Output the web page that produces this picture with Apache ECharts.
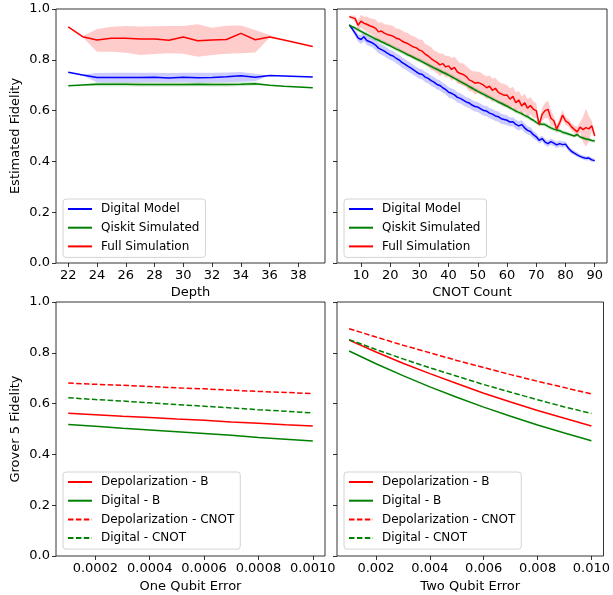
<!DOCTYPE html>
<html>
<head>
<meta charset="utf-8">
<script src="https://cdn.jsdelivr.net/npm/echarts@6.0.0/dist/echarts.min.js"></script>
<style>
  html, body { margin: 0; padding: 0; background: #fff; }
  #chart { width: 613px; height: 595px; }
</style>
</head>
<body>
<div id="chart"></div>
<script>
// ---- top left: fidelity vs depth ----
const depth = [22, 23, 24, 25, 26, 27, 28, 29, 30, 31, 32, 33, 34, 35, 36, 37, 38, 39];
const depthDigital = [0.751, 0.740, 0.730, 0.730, 0.730, 0.730, 0.731, 0.728, 0.731, 0.729, 0.730, 0.733, 0.737, 0.731, 0.738, 0.736, 0.734, 0.732];
const depthDigitalLo = [0.751, 0.738, 0.712, 0.711, 0.711, 0.711, 0.712, 0.711, 0.712, 0.711, 0.711, 0.712, 0.714, 0.716, 0.738, 0.736, 0.734, 0.732];
const depthDigitalHi = [0.751, 0.742, 0.748, 0.749, 0.749, 0.749, 0.749, 0.748, 0.749, 0.749, 0.749, 0.750, 0.752, 0.745, 0.738, 0.736, 0.734, 0.732];
const depthQiskit = [0.698, 0.701, 0.704, 0.704, 0.704, 0.703, 0.703, 0.703, 0.703, 0.704, 0.703, 0.703, 0.704, 0.706, 0.700, 0.696, 0.693, 0.690];
const depthQiskitLo = [0.698, 0.700, 0.696, 0.696, 0.696, 0.695, 0.695, 0.695, 0.695, 0.696, 0.695, 0.695, 0.696, 0.699, 0.700, 0.696, 0.693, 0.690];
const depthQiskitHi = [0.698, 0.702, 0.712, 0.712, 0.712, 0.711, 0.711, 0.711, 0.711, 0.712, 0.711, 0.711, 0.712, 0.713, 0.700, 0.696, 0.693, 0.690];
const depthFull = [0.930, 0.891, 0.878, 0.885, 0.885, 0.882, 0.882, 0.877, 0.890, 0.875, 0.878, 0.880, 0.904, 0.879, 0.890, 0.878, 0.865, 0.852];
const depthFullLo = [0.930, 0.889, 0.832, 0.832, 0.828, 0.819, 0.823, 0.826, 0.824, 0.812, 0.819, 0.824, 0.826, 0.829, 0.887, 0.878, 0.865, 0.852];
const depthFullHi = [0.930, 0.893, 0.921, 0.930, 0.933, 0.931, 0.932, 0.933, 0.933, 0.940, 0.926, 0.934, 0.935, 0.917, 0.898, 0.878, 0.865, 0.852];

// ---- top right: fidelity vs CNOT count ----
const cnot = [6, 7, 8, 9, 10, 11, 12, 13, 14, 15, 16, 17, 18, 19, 20, 21, 22, 23, 24, 25, 26, 27, 28, 29, 30,
  31, 32, 33, 34, 35, 36, 37, 38, 39, 40, 41, 42, 43, 44, 45, 46, 47, 48, 49, 50, 51, 52, 53, 54, 55, 56, 57, 58,
  59, 60, 61, 62, 63, 64, 65, 66, 67, 68, 69, 70, 71, 72, 73, 74, 75, 76, 77, 78, 79, 80, 81, 82, 83, 84, 85, 86,
  87, 88, 89, 90];
const cnotDigital = [
  0.937, 0.922, 0.905, 0.886, 0.880, 0.891, 0.876, 0.871, 0.866, 0.858,
  0.846, 0.840, 0.834, 0.826, 0.819, 0.815, 0.806, 0.800, 0.790, 0.783,
  0.775, 0.768, 0.760, 0.752, 0.745, 0.742, 0.732, 0.727, 0.718, 0.712,
  0.703, 0.699, 0.690, 0.683, 0.672, 0.668, 0.662, 0.652, 0.648, 0.641,
  0.634, 0.630, 0.622, 0.616, 0.614, 0.607, 0.600, 0.598, 0.590, 0.586,
  0.579, 0.576, 0.568, 0.565, 0.562, 0.555, 0.556, 0.546, 0.540, 0.545,
  0.532, 0.522, 0.518, 0.505, 0.497, 0.483, 0.490, 0.476, 0.470, 0.478,
  0.472, 0.465, 0.470, 0.466, 0.468, 0.452, 0.440, 0.433, 0.426, 0.420,
  0.415, 0.412, 0.413, 0.406, 0.403];
const cnotDigitalSpread = [
  0.003, 0.008, 0.012, 0.015, 0.018, 0.018, 0.018, 0.018, 0.018, 0.020,
  0.020, 0.020, 0.020, 0.020, 0.020, 0.020, 0.020, 0.020, 0.020, 0.020,
  0.020, 0.020, 0.020, 0.020, 0.020, 0.020, 0.020, 0.020, 0.020, 0.020,
  0.020, 0.020, 0.020, 0.020, 0.020, 0.020, 0.020, 0.020, 0.020, 0.020,
  0.020, 0.020, 0.020, 0.020, 0.020, 0.020, 0.020, 0.020, 0.020, 0.020,
  0.020, 0.020, 0.020, 0.020, 0.020, 0.018, 0.018, 0.018, 0.018, 0.018,
  0.018, 0.016, 0.016, 0.015, 0.015, 0.012, 0.012, 0.012, 0.012, 0.012,
  0.012, 0.012, 0.012, 0.012, 0.010, 0.010, 0.010, 0.009, 0.009, 0.008,
  0.008, 0.008, 0.008, 0.008, 0.006];
const cnotQiskit = [
  0.937, 0.930, 0.925, 0.918, 0.912, 0.906, 0.900, 0.894, 0.888, 0.882,
  0.877, 0.871, 0.866, 0.860, 0.855, 0.849, 0.843, 0.838, 0.832, 0.826,
  0.820, 0.815, 0.809, 0.803, 0.798, 0.792, 0.786, 0.780, 0.774, 0.768,
  0.763, 0.757, 0.751, 0.746, 0.740, 0.734, 0.727, 0.721, 0.714, 0.708,
  0.702, 0.695, 0.689, 0.682, 0.676, 0.670, 0.664, 0.658, 0.652, 0.646,
  0.640, 0.634, 0.629, 0.623, 0.617, 0.611, 0.605, 0.598, 0.593, 0.588,
  0.581, 0.576, 0.568, 0.562, 0.554, 0.547, 0.546, 0.545, 0.538, 0.532,
  0.527, 0.524, 0.521, 0.515, 0.512, 0.508, 0.504, 0.500, 0.506, 0.496,
  0.492, 0.488, 0.486, 0.482, 0.480];
const cnotQiskitSpread = [
  0.002, 0.004, 0.006, 0.008, 0.008, 0.008, 0.008, 0.008, 0.008, 0.008,
  0.008, 0.008, 0.008, 0.008, 0.008, 0.008, 0.008, 0.008, 0.008, 0.008,
  0.008, 0.008, 0.008, 0.008, 0.008, 0.008, 0.008, 0.008, 0.008, 0.008,
  0.008, 0.008, 0.008, 0.008, 0.008, 0.008, 0.008, 0.008, 0.008, 0.008,
  0.008, 0.008, 0.008, 0.008, 0.008, 0.008, 0.008, 0.008, 0.008, 0.008,
  0.008, 0.008, 0.008, 0.008, 0.008, 0.008, 0.008, 0.008, 0.008, 0.008,
  0.008, 0.008, 0.008, 0.008, 0.008, 0.008, 0.008, 0.008, 0.008, 0.008,
  0.008, 0.008, 0.008, 0.008, 0.008, 0.007, 0.007, 0.007, 0.007, 0.007,
  0.007, 0.007, 0.007, 0.007, 0.007];
const cnotFull = [
  0.970, 0.966, 0.962, 0.936, 0.952, 0.944, 0.940, 0.934, 0.930, 0.924,
  0.910, 0.913, 0.905, 0.900, 0.897, 0.893, 0.885, 0.882, 0.874, 0.868,
  0.864, 0.857, 0.850, 0.847, 0.838, 0.834, 0.822, 0.815, 0.805, 0.797,
  0.790, 0.780, 0.785, 0.772, 0.776, 0.762, 0.770, 0.752, 0.746, 0.742,
  0.735, 0.721, 0.716, 0.708, 0.711, 0.706, 0.700, 0.690, 0.696, 0.680,
  0.688, 0.672, 0.666, 0.660, 0.661, 0.645, 0.656, 0.631, 0.642, 0.618,
  0.631, 0.610, 0.620, 0.605, 0.600, 0.545, 0.585, 0.600, 0.605, 0.570,
  0.560, 0.528, 0.552, 0.582, 0.560, 0.552, 0.537, 0.526, 0.516, 0.535,
  0.525, 0.533, 0.528, 0.540, 0.500];
const cnotFullSpread = [
  0.003, 0.008, 0.012, 0.020, 0.025, 0.025, 0.030, 0.030, 0.032, 0.035,
  0.035, 0.036, 0.035, 0.038, 0.040, 0.040, 0.038, 0.040, 0.042, 0.040,
  0.042, 0.040, 0.043, 0.040, 0.042, 0.045, 0.040, 0.042, 0.044, 0.040,
  0.042, 0.045, 0.040, 0.043, 0.040, 0.045, 0.042, 0.046, 0.040, 0.044,
  0.042, 0.045, 0.040, 0.046, 0.042, 0.044, 0.040, 0.045, 0.042, 0.046,
  0.040, 0.044, 0.042, 0.045, 0.040, 0.042, 0.038, 0.040, 0.036, 0.038,
  0.035, 0.036, 0.034, 0.032, 0.030, 0.010, 0.025, 0.030, 0.035, 0.030,
  0.020, 0.015, 0.020, 0.020, 0.015, 0.015, 0.015, 0.015, 0.020, 0.020,
  0.050, 0.075, 0.050, 0.020, 0.008];

// ---- bottom left: one qubit error ----
const oneQubitErr = [0.0001, 0.0002, 0.0003, 0.0004, 0.0005, 0.0006, 0.0007, 0.0008, 0.0009, 0.0010];
const oneDepolB = [0.562, 0.556, 0.550, 0.545, 0.539, 0.534, 0.528, 0.523, 0.517, 0.512];
const oneDigitalB = [0.518, 0.511, 0.503, 0.496, 0.489, 0.482, 0.475, 0.467, 0.460, 0.453];
const oneDepolCnot = [0.681, 0.676, 0.672, 0.667, 0.662, 0.658, 0.653, 0.648, 0.644, 0.639];
const oneDigitalCnot = [0.623, 0.616, 0.610, 0.603, 0.596, 0.590, 0.583, 0.576, 0.570, 0.563];

// ---- bottom right: two qubit error ----
const twoQubitErr = [0.001, 0.002, 0.003, 0.004, 0.005, 0.006, 0.007, 0.008, 0.009, 0.010];
const twoDepolB = [0.850, 0.803, 0.759, 0.718, 0.679, 0.641, 0.606, 0.573, 0.542, 0.512];
const twoDigitalB = [0.807, 0.757, 0.710, 0.666, 0.625, 0.586, 0.550, 0.516, 0.484, 0.454];
const twoDepolCnot = [0.895, 0.862, 0.830, 0.800, 0.770, 0.742, 0.714, 0.688, 0.663, 0.638];
const twoDigitalCnot = [0.852, 0.813, 0.776, 0.741, 0.708, 0.675, 0.645, 0.615, 0.587, 0.561];

// tick labels
const depthTicks = [22, 24, 26, 28, 30, 32, 34, 36, 38];
const cnotTicks = [10, 20, 30, 40, 50, 60, 70, 80, 90];
const oneTicks = [0.0002, 0.0004, 0.0006, 0.0008, 0.0010];
const twoTicks = [0.002, 0.004, 0.006, 0.008, 0.010];

const FONT = 'DejaVu Sans';
const BLUE = '#0000ff', GREEN = '#008000', RED = '#ff0000';

function pairs(xs, ys) { return xs.map((x, i) => [x, ys[i]]); }
function band(xs, lo, hi) { return xs.map((x, i) => [x, lo[i], hi[i]]); }
function spreadBand(xs, ys, s) { return xs.map((x, i) => [x, ys[i] - s[i], ys[i] + s[i]]); }

function bandSeries(data, fill, idx) {
  return {
    type: 'custom', xAxisIndex: idx, yAxisIndex: idx, z: 1, silent: true,
    encode: { x: 0, y: [1, 2] },
    data: data,
    renderItem: function (params, api) {
      if (params.dataIndexInside !== 0) return;
      const n = params.dataInsideLength;
      const up = [], dn = [];
      for (let i = 0; i < n; i++) {
        up.push(api.coord([api.value(0, i), api.value(2, i)]));
        dn.push(api.coord([api.value(0, i), api.value(1, i)]));
      }
      return { type: 'polygon', shape: { points: up.concat(dn.reverse()) }, style: { fill: fill } };
    }
  };
}

function lineSeries(name, data, color, idx, dashed) {
  return {
    name: name, type: 'line', xAxisIndex: idx, yAxisIndex: idx, z: 3,
    data: data, symbol: 'none', showSymbol: false,
    lineStyle: { color: color, width: 1.5, type: dashed ? [5.5, 2.4] : 'solid' },
    itemStyle: { color: color }
  };
}

function xAxis(idx, min, max, ticks, digits, name) {
  return {
    type: 'value', gridIndex: idx, min: min, max: max,
    name: name, nameLocation: 'middle', nameGap: idx < 2 ? 23 : 24,
    nameTextStyle: { fontFamily: FONT, fontSize: 13, color: '#000' },
    axisLine: { show: false },
    axisTick: { show: true, length: 4, customValues: ticks, lineStyle: { color: '#000', width: 0.8 } },
    axisLabel: { customValues: ticks, margin: 6, fontFamily: FONT, fontSize: 13, color: '#000',
      formatter: v => v.toFixed(digits) },
    splitLine: { show: false }
  };
}

function yAxis(idx, showLabels, name) {
  return {
    type: 'value', gridIndex: idx, min: 0, max: 1, interval: 0.2,
    name: name, nameLocation: 'middle', nameGap: 34,
    nameTextStyle: { fontFamily: FONT, fontSize: 13, color: '#000' },
    axisLine: { show: false },
    axisTick: { show: true, length: 4, lineStyle: { color: '#000', width: 0.8 } },
    axisLabel: { show: showLabels, margin: 6, fontFamily: FONT, fontSize: 13, color: '#000',
      formatter: v => v.toFixed(1) },
    splitLine: { show: false }
  };
}

function legend(left, top, names) {
  return {
    orient: 'vertical', left: left, top: top, data: names,
    backgroundColor: 'rgba(255,255,255,0.8)', borderColor: '#d4d4d4', borderWidth: 1, borderRadius: 3,
    padding: [3, 6, 4, 4], itemWidth: 24, itemHeight: 14, itemGap: 4.7,
    // hide the marker dot, keep only the line sample
    itemStyle: { opacity: 0, color: 'transparent', borderColor: 'transparent', borderWidth: 0 },
    textStyle: { fontFamily: FONT, fontSize: 12, color: '#000', lineHeight: 14, padding: [0, 0, 0, 4] }
  };
}

const topNames = ['Digital Model', 'Qiskit Simulated', 'Full Simulation'];
const botNames = ['Depolarization - B', 'Digital - B', 'Depolarization - CNOT', 'Digital - CNOT'];
const gridStyle = { show: true, borderColor: '#000', borderWidth: 0.8, backgroundColor: 'transparent' };

const chart = echarts.init(document.getElementById('chart'), null, { renderer: 'canvas' });
chart.setOption({
  animation: false,
  backgroundColor: '#fff',
  grid: [
    Object.assign({ left: 56, top: 9, width: 269, height: 254 }, gridStyle),
    Object.assign({ left: 337, top: 9, width: 270, height: 254 }, gridStyle),
    Object.assign({ left: 56, top: 302, width: 269, height: 254 }, gridStyle),
    Object.assign({ left: 337, top: 302, width: 270, height: 254 }, gridStyle)
  ],
  xAxis: [
    xAxis(0, 21.15, 39.85, depthTicks, 0, 'Depth'),
    xAxis(1, 1.8, 94.2, cnotTicks, 0, 'CNOT Count'),
    xAxis(2, 0.000055, 0.001045, oneTicks, 4, 'One Qubit Error'),
    xAxis(3, 0.00055, 0.01045, twoTicks, 3, 'Two Qubit Error')
  ],
  yAxis: [
    yAxis(0, true, 'Estimated Fidelity'),
    yAxis(1, false, ''),
    yAxis(2, true, 'Grover 5 Fidelity'),
    yAxis(3, false, '')
  ],
  legend: [
    legend(63, 199, topNames),
    legend(344, 199, topNames),
    legend(63, 472, botNames),
    legend(344, 472, botNames)
  ],
  series: [
    bandSeries(band(depth, depthFullLo, depthFullHi), 'rgba(255,0,0,0.2)', 0),
    bandSeries(band(depth, depthDigitalLo, depthDigitalHi), 'rgba(0,0,255,0.2)', 0),
    bandSeries(band(depth, depthQiskitLo, depthQiskitHi), 'rgba(0,128,0,0.2)', 0),
    lineSeries('Digital Model', pairs(depth, depthDigital), BLUE, 0),
    lineSeries('Qiskit Simulated', pairs(depth, depthQiskit), GREEN, 0),
    lineSeries('Full Simulation', pairs(depth, depthFull), RED, 0),

    bandSeries(spreadBand(cnot, cnotDigital, cnotDigitalSpread), 'rgba(0,0,255,0.2)', 1),
    bandSeries(spreadBand(cnot, cnotQiskit, cnotQiskitSpread), 'rgba(0,128,0,0.2)', 1),
    bandSeries(spreadBand(cnot, cnotFull, cnotFullSpread), 'rgba(255,0,0,0.2)', 1),
    lineSeries('Digital Model', pairs(cnot, cnotDigital), BLUE, 1),
    lineSeries('Qiskit Simulated', pairs(cnot, cnotQiskit), GREEN, 1),
    lineSeries('Full Simulation', pairs(cnot, cnotFull), RED, 1),

    lineSeries('Depolarization - B', pairs(oneQubitErr, oneDepolB), RED, 2),
    lineSeries('Digital - B', pairs(oneQubitErr, oneDigitalB), GREEN, 2),
    lineSeries('Depolarization - CNOT', pairs(oneQubitErr, oneDepolCnot), RED, 2, true),
    lineSeries('Digital - CNOT', pairs(oneQubitErr, oneDigitalCnot), GREEN, 2, true),

    lineSeries('Depolarization - B', pairs(twoQubitErr, twoDepolB), RED, 3),
    lineSeries('Digital - B', pairs(twoQubitErr, twoDigitalB), GREEN, 3),
    lineSeries('Depolarization - CNOT', pairs(twoQubitErr, twoDepolCnot), RED, 3, true),
    lineSeries('Digital - CNOT', pairs(twoQubitErr, twoDigitalCnot), GREEN, 3, true)
  ]
});
</script>
</body>
</html>
